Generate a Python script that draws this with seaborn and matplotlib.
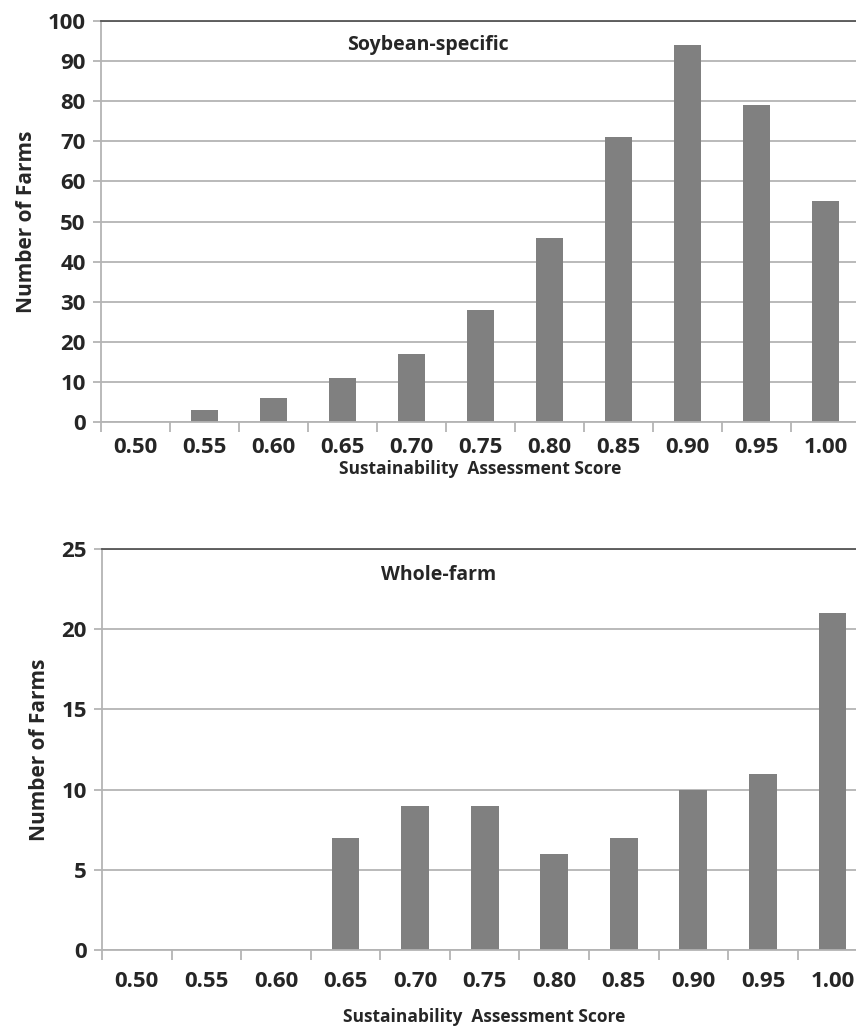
import pandas as pd
import seaborn as sns
import matplotlib.pyplot as plt
from matplotlib.ticker import FixedLocator

# --- Dados ---
scores = ["0.50", "0.55", "0.60", "0.65", "0.70", "0.75",
          "0.80", "0.85", "0.90", "0.95", "1.00"]
soybean_farms = [0, 3, 6, 11, 17, 28, 46, 71, 94, 79, 55]
wholefarm_farms = [0, 0, 0, 7, 9, 9, 6, 7, 10, 11, 21]

sns.set_theme(style="white")
plt.rcParams['font.family'] = ['Open Sans', 'DejaVu Sans']
plt.rcParams['font.weight'] = 'bold'

BAR = "#808080"
GRID = "#b4b4b4"


def painel(ax, valores, titulo, ymax, passo, tx, ty, tpad, xpad):
    df = pd.DataFrame({"score": scores, "n": valores})
    sns.barplot(data=df, x="score", y="n", ax=ax, color=BAR,
                width=0.4, saturation=1, edgecolor="none")
    ax.set_xlim(-0.5, len(scores) - 0.5)
    ax.set_ylim(0, ymax)
    ax.set_yticks(range(0, ymax + 1, passo))
    ax.yaxis.grid(True, color=GRID, linewidth=1.3)
    ax.set_axisbelow(True)
    ax.spines["right"].set_visible(False)
    ax.spines["top"].set_color("#555555")
    ax.spines["top"].set_linewidth(1.3)
    for s in ["left", "bottom"]:
        ax.spines[s].set_color(GRID)
        ax.spines[s].set_linewidth(1.3)
    # marcas entre as categorias
    ax.xaxis.set_minor_locator(FixedLocator([i - 0.5 for i in range(len(scores) + 1)]))
    ax.tick_params(axis="x", which="major", length=0, pad=tpad, labelsize=16)
    ax.tick_params(axis="x", which="minor", length=7, width=1.3, color=GRID, bottom=True)
    ax.tick_params(axis="y", length=6, width=1.3, color=GRID, left=True, labelsize=16, pad=5)
    for lab in ax.get_xticklabels() + ax.get_yticklabels():
        lab.set_fontweight("bold")
    ax.set_ylabel("Number of Farms", fontsize=15, fontweight="bold", labelpad=8)
    ax.set_xlabel("Sustainability  Assessment Score", fontsize=12.5,
                  fontweight="bold", labelpad=xpad)
    ax.text(tx, ty, titulo, transform=ax.transAxes, ha="center", va="center",
            fontsize=14, fontweight="bold")


fig = plt.figure(figsize=(8.56, 10.30), dpi=100)
ax1 = fig.add_axes([0.118, 0.5903, 0.8867, 0.3893])
ax2 = fig.add_axes([0.1192, 0.0777, 0.894, 0.3893])

painel(ax1, soybean_farms, "Soybean-specific", 100, 10, 0.43, 0.94, 11, 1)
painel(ax2, wholefarm_farms, "Whole-farm", 25, 5, 0.44, 0.935, 15, 12)

fig.savefig("out.png", dpi=100)
